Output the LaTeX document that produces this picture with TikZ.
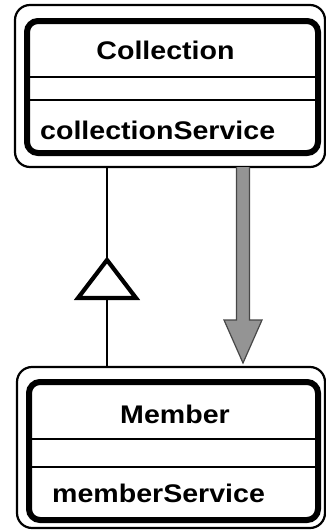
\documentclass[tikz,border=0pt]{standalone}
\usepackage{fontspec}
\usetikzlibrary{calc}
\newfontfamily\umlfont[FakeStretch=1.12]{Liberation Sans}
\tikzset{
  outerbox/.style={draw, line width=2.2pt, rounded corners=15pt, inner sep=0pt, outer sep=0pt},
  innerbox/.style={draw, line width=6pt, rounded corners=11pt, inner sep=0pt, outer sep=0pt},
  divider/.style={line width=2pt},
  classname/.style={inner sep=0pt, anchor=base, font=\umlfont\bfseries\fontsize{25.5}{30}\selectfont},
  attrname/.style={inner sep=0pt, anchor=base west, font=\umlfont\bfseries\fontsize{25.5}{30}\selectfont},
  genline/.style={line width=1.6pt},
  gentri/.style={line width=4.2pt, fill=white, line join=miter},
  depend/.style={fill=black!42, draw=black!72, line width=1.2pt, line join=miter}
}
\begin{document}
\begin{tikzpicture}[x=1pt, y=-1pt]
  \useasboundingbox (0,0) rectangle (326,530);

  % class Collection
  \node[outerbox, minimum width=310pt, minimum height=162pt] (coll) at (170,86) {};
  \node[innerbox, minimum width=291pt, minimum height=132pt] (collin) at (172.5,87) {};
  \draw[divider] (27,77) -- (318,77);
  \draw[divider] (27,100) -- (318,100);
  \node[classname] (collname) at (165.5,59.5) {Collection};
  \node[attrname] (collattr) at (40,139.5) {collectionService};

  % class Member
  \node[outerbox, minimum width=308pt, minimum height=161pt] (mem) at (171,447.5) {};
  \node[innerbox, minimum width=289pt, minimum height=138pt] (memin) at (173.5,451) {};
  \draw[divider] (29,439) -- (318,439);
  \draw[divider] (29,467) -- (318,467);
  \node[classname] (memname) at (175,423) {Member};
  \node[attrname] (memattr) at (52,502.5) {memberService};

  % generalization: Member inherits from Collection
  \coordinate (apex) at (107,260);
  \coordinate (basemid) at (107,298);
  \draw[genline] (apex |- coll.south) -- (apex);
  \draw[genline] (basemid) -- (basemid |- mem.north);
  \draw[gentri] (apex) -- ($(basemid)+(-29,0)$) -- ($(basemid)+(29,0)$) -- cycle;

  % dependency arrow from Collection to Member
  \coordinate (depx) at (243,0);
  \coordinate (dtop) at (coll.south -| depx);
  \coordinate (dtip) at ($(mem.north -| depx)+(0,-4)$);
  \draw[depend] ($(dtop)+(-6.5,0)$) -- ($(dtip)+(-6.5,-43)$) -- ($(dtip)+(-19,-43)$)
    -- (dtip) -- ($(dtip)+(19,-43)$) -- ($(dtip)+(6.5,-43)$) -- ($(dtop)+(6.5,0)$);
\end{tikzpicture}
\end{document}
